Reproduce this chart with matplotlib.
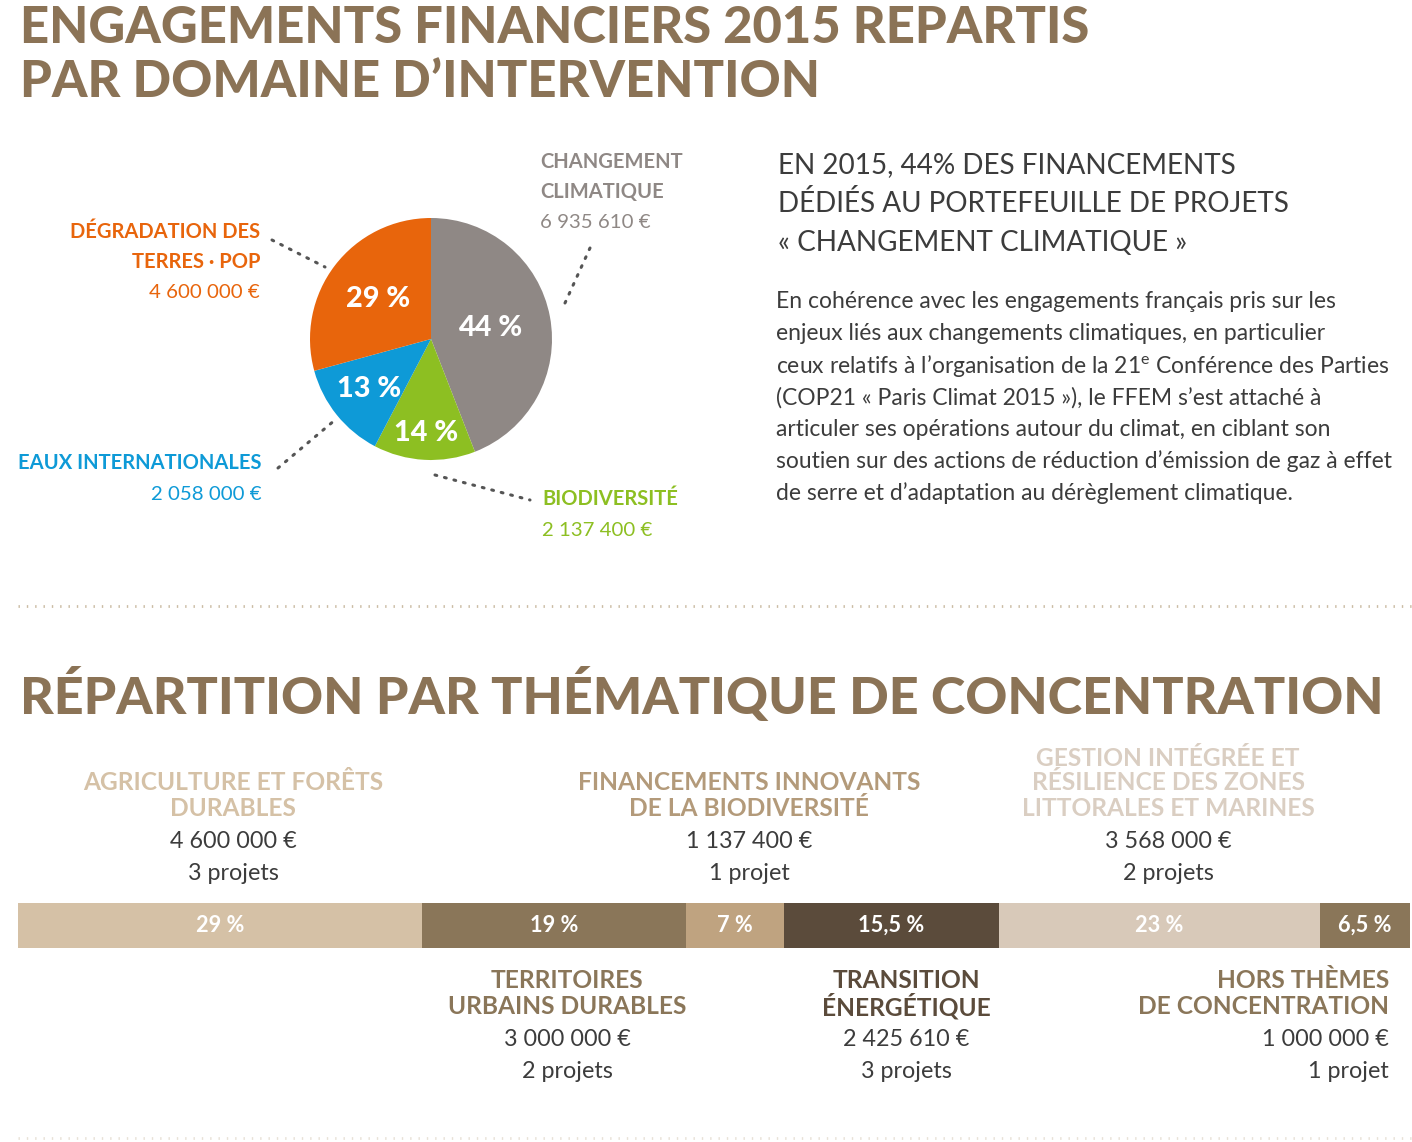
import matplotlib
matplotlib.use('Agg')
import matplotlib.pyplot as plt
from matplotlib import font_manager as fm
import numpy as np

W, H = 1412, 1142

# ---------------- data ----------------
pie_domains = ['CHANGEMENT\nCLIMATIQUE', 'BIODIVERSITÉ', 'EAUX INTERNATIONALES', 'DÉGRADATION DES\nTERRES · POP']
pie_amounts = [6935610, 2137400, 2058000, 4600000]
pie_amount_labels = ['6 935 610 €', '2 137 400 €', '2 058 000 €', '4 600 000 €']
pie_colors = ['#8F8885', '#8DBF22', '#0E9AD7', '#E8650C']

theme_names = ['AGRICULTURE ET FORÊTS\nDURABLES', 'TERRITOIRES\nURBAINS DURABLES',
               'FINANCEMENTS INNOVANTS\nDE LA BIODIVERSITÉ', 'TRANSITION\nÉNERGÉTIQUE',
               'GESTION INTÉGRÉE ET\nRÉSILIENCE DES ZONES\nLITTORALES ET MARINES',
               'HORS THÈMES\nDE CONCENTRATION']
theme_shares = [29, 19, 7, 15.5, 23, 6.5]
theme_share_labels = ['29 %', '19 %', '7 %', '15,5 %', '23 %', '6,5 %']
theme_amounts = ['4 600 000 €', '3 000 000 €', '1 137 400 €', '2 425 610 €', '3 568 000 €', '1 000 000 €']
theme_projects = ['3 projets', '2 projets', '1 projet', '3 projets', '2 projets', '1 projet']
theme_colors = ['#D5C1A6', '#8A7659', '#BFA380', '#5B4B3B', '#D8C9B9', '#8A7659']
theme_text_colors = ['#D5C1A6', '#8A7659', '#B39A7A', '#5B4B3B', '#DACEC2', '#8A7659']

title_lines = ['ENGAGEMENTS FINANCIERS 2015 REPARTIS', 'PAR DOMAINE D’INTERVENTION']
section_title = 'RÉPARTITION PAR THÉMATIQUE DE CONCENTRATION'
headline = ['EN 2015, 44% DES FINANCEMENTS', 'DÉDIÉS AU PORTEFEUILLE DE PROJETS',
            '« CHANGEMENT CLIMATIQUE »']
paragraph = ['En cohérence avec les engagements français pris sur les',
             'enjeux liés aux changements climatiques, en particulier',
             'ceux relatifs à l’organisation de la 21$^{\\mathrm{e}}$ Conférence des Parties',
             '(COP21 « Paris Climat 2015 »), le FFEM s’est attaché à',
             'articuler ses opérations autour du climat, en ciblant son',
             'soutien sur des actions de réduction d’émission de gaz à effet',
             'de serre et d’adaptation au dérèglement climatique.']

# ---------------- fonts ----------------
avail = {f.name for f in fm.fontManager.ttflist}
def pick(*names):
    for n in names:
        if n in avail:
            return n
    return 'DejaVu Sans'

HEAVY = pick('Lato', 'Open Sans', 'Inter', 'Roboto')
NARROW = pick('Liberation Sans Narrow', 'Lato', 'Roboto')
BODY = pick('Lato', 'Open Sans', 'Noto Sans')
plt.rcParams['mathtext.fontset'] = 'custom'
plt.rcParams['mathtext.rm'] = BODY
plt.rcParams['mathtext.it'] = BODY

TITLE_C = '#8B7356'
TEXT_C = '#3C3C3C'

fig = plt.figure(figsize=(W / 100, H / 100), dpi=100)
fig.patch.set_facecolor('white')
ax = fig.add_axes([0, 0, 1, 1])
ax.set_xlim(0, W)
ax.set_ylim(H, 0)
ax.axis('off')
renderer = fig.canvas.get_renderer()


def fit_size(text, width, **kw):
    t = ax.text(0, 0, text, fontsize=10, **kw)
    w = t.get_window_extent(renderer).width
    t.remove()
    return 10 * width / w

# ---------------- titles ----------------
hkw = dict(family=HEAVY, weight='black')
s = fit_size(title_lines[0], 1065, **hkw)
ax.text(20, 43, title_lines[0], fontsize=s, color=TITLE_C, ha='left', va='baseline', **hkw)
ax.text(20, 97, title_lines[1], fontsize=s, color=TITLE_C, ha='left', va='baseline', **hkw)
s = fit_size(section_title, 1360, **hkw)
ax.text(20, 714, section_title, fontsize=s, color=TITLE_C, ha='left', va='baseline', **hkw)

# ---------------- pie ----------------
cx, cy, r = 431, 339, 121
pax = fig.add_axes([(cx - r) / W, 1 - (cy + r) / H, 2 * r / W, 2 * r / H])
wedges, _, autotexts = pax.pie(pie_amounts, colors=pie_colors, startangle=90, counterclock=False,
                               autopct=lambda p: f'{p:.0f} %', pctdistance=0.6,
                               wedgeprops=dict(linewidth=0),
                               textprops=dict(color='white', family=HEAVY, weight='black'))
pax.set_xlim(-1, 1)
pax.set_ylim(-1, 1)
pax.set_aspect('auto')
pax.axis('off')
pct_radii = [0.5, 0.78, 0.66, 0.55]
ps = fit_size('44 %', 64, family=HEAVY, weight='black')
for wdg, at, rad in zip(wedges, autotexts, pct_radii):
    mid = np.deg2rad((wdg.theta1 + wdg.theta2) / 2)
    at.set_position((rad * np.cos(mid), rad * np.sin(mid)))
    at.set_fontsize(ps)

# pie labels
lkw = dict(family=NARROW, weight='bold')
ls = fit_size('DÉGRADATION DES', 190, **lkw)
nkw = dict(family=BODY, weight='normal')
ns = fit_size('6 935 610 €', 110, **nkw)
pie_label_layout = [  # x, y first line center, ha
    (540, 162, 'left'),
    (542, 499, 'left'),
    (262, 463, 'right'),
    (260, 232, 'right'),
]
for name, amt, col, (x, y, ha) in zip(pie_domains, pie_amount_labels, pie_colors, pie_label_layout):
    lines = name.split('\n')
    for i, ln in enumerate(lines):
        ax.text(x, y + i * 30, ln, fontsize=ls, color=col, ha=ha, va='center', **lkw)
    ax.text(x, y + len(lines) * 30 + 1, amt, fontsize=ns, color=col, ha=ha, va='center', **nkw)

# leader lines
leaders = [((565, 303), (590, 248)), ((435, 475), (530, 500)),
           ((278, 468), (335, 420)), ((272, 240), (325, 267))]
for (x0, y0), (x1, y1) in leaders:
    ax.plot([x0, x1], [y0, y1], color='#555555', lw=2.2, linestyle=(0, (0.6, 2.6)),
            dash_capstyle='round')

# ---------------- right text ----------------
hs = fit_size(headline[1], 506, family=BODY, weight='normal')
for i, ln in enumerate(headline):
    ax.text(778, 165 + i * 39, ln, fontsize=hs, color=TEXT_C, ha='left', va='center', family=BODY)
bs = fit_size(paragraph[5], 616, family=BODY, weight='normal')
for i, ln in enumerate(paragraph):
    ax.text(776, 302 + i * 31.8, ln, fontsize=bs, color=TEXT_C, ha='left', va='center', family=BODY)

# separators
ax.plot([18, W], [606, 606], color='#CBBCA4', lw=2, linestyle=(0, (0.5, 2.5)))
ax.plot([18, W], [1138, 1138], color='#E8E1D7', lw=2, linestyle=(0, (0.5, 2.5)))

# ---------------- stacked bar ----------------
bx0, bx1, by0, by1 = 18, 1410, 903, 948
bax = fig.add_axes([bx0 / W, 1 - by1 / H, (bx1 - bx0) / W, (by1 - by0) / H])
lefts = np.concatenate([[0], np.cumsum(theme_shares)[:-1]])
bars = bax.barh([0], theme_shares, left=lefts, color=theme_colors, height=1, linewidth=0)
bax.set_xlim(0, sum(theme_shares))
bax.set_ylim(-0.5, 0.5)
bax.axis('off')
bks = fit_size('15,5 %', 66, family=NARROW, weight='bold')
bax.bar_label(bars, labels=theme_share_labels, label_type='center', color='white',
              fontsize=bks, family=NARROW, weight='bold')

# theme labels
tls = fit_size('FINANCEMENTS INNOVANTS', 343, **lkw)
tns = fit_size('3 568 000 €', 126, **nkw)
theme_layout = [  # x, ha, above/below
    (233, 'center', 'above'),
    (567, 'center', 'below'),
    (749, 'center', 'above'),
    (906, 'center', 'below'),
    (1168, 'center', 'above'),
    (1389, 'right', 'below'),
]
for name, amt, proj, col, (x, ha, pos) in zip(theme_names, theme_amounts, theme_projects,
                                             theme_text_colors, theme_layout):
    lines = name.split('\n')
    y_last = 808 if pos == 'above' else 1006
    y_first = y_last - 25 * (len(lines) - 1)
    for i, ln in enumerate(lines):
        ax.text(x, y_first + 25 * i, ln, fontsize=tls, color=col, ha=ha, va='center', **lkw)
    ax.text(x, y_last + 33, amt, fontsize=tns, color=TEXT_C, ha=ha, va='center', **nkw)
    ax.text(x, y_last + 65, proj, fontsize=tns, color=TEXT_C, ha=ha, va='center', **nkw)

fig.savefig('out.png', dpi=100, facecolor='white')
